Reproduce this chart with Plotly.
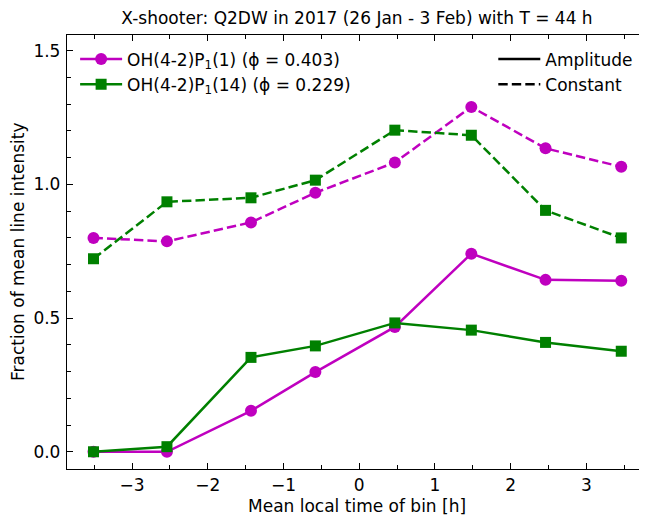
import plotly.graph_objects as go

# Data
local_time = [-3.51, -2.54, -1.43, -0.58, 0.47, 1.48, 2.46, 3.46]
p1_1_amplitude = [0.0, 0.0, 0.153, 0.298, 0.467, 0.741, 0.643, 0.640]
p1_1_constant = [0.800, 0.787, 0.858, 0.969, 1.082, 1.290, 1.135, 1.066]
p1_14_amplitude = [0.0, 0.019, 0.353, 0.396, 0.482, 0.455, 0.409, 0.376]
p1_14_constant = [0.722, 0.935, 0.950, 1.016, 1.203, 1.184, 0.903, 0.800]

x_tick_vals = [-3, -2, -1, 0, 1, 2, 3]
x_tick_text = ["−3", "−2", "−1", "0", "1", "2", "3"]
y_tick_vals = [0, 0.5, 1.0, 1.5]
y_tick_text = ["0.0", "0.5", "1.0", "1.5"]

name_1 = "OH(4-2)P<sub>1</sub>(1) (ϕ = 0.403)"
name_14 = "OH(4-2)P<sub>1</sub>(14) (ϕ = 0.229)"
title = "X-shooter: Q2DW in 2017 (26 Jan - 3 Feb) with T = 44 h"
xlabel = "Mean local time of bin [h]"
ylabel = "Fraction of mean line intensity"

MAG = "#bf00bf"
GRN = "#008000"
FONT = "DejaVu Sans"
FS = 17
LW = 2.5
DASH = "9.4px,4.1px"

fig = go.Figure()

fig.add_trace(go.Scatter(x=local_time, y=p1_1_constant, mode="lines+markers",
                         line=dict(color=MAG, width=LW, dash=DASH),
                         marker=dict(symbol="circle", size=12, color=MAG),
                         showlegend=False))
fig.add_trace(go.Scatter(x=local_time, y=p1_14_constant, mode="lines+markers",
                         line=dict(color=GRN, width=LW, dash=DASH),
                         marker=dict(symbol="square", size=11, color=GRN),
                         showlegend=False))
fig.add_trace(go.Scatter(x=local_time, y=p1_1_amplitude, mode="lines+markers",
                         line=dict(color=MAG, width=LW),
                         marker=dict(symbol="circle", size=12, color=MAG),
                         name=name_1, legend="legend"))
fig.add_trace(go.Scatter(x=local_time, y=p1_14_amplitude, mode="lines+markers",
                         line=dict(color=GRN, width=LW),
                         marker=dict(symbol="square", size=11, color=GRN),
                         name=name_14, legend="legend"))

# line style legend
fig.add_trace(go.Scatter(x=[None], y=[None], mode="lines",
                         line=dict(color="black", width=LW),
                         name="Amplitude", legend="legend2"))
fig.add_trace(go.Scatter(x=[None], y=[None], mode="lines",
                         line=dict(color="black", width=LW, dash=DASH),
                         name="Constant", legend="legend2"))

axis_common = dict(
    showline=True, linecolor="black", linewidth=1.3, mirror="ticks",
    ticks="inside", ticklen=6, tickwidth=1.3, tickcolor="black",
    showgrid=False, zeroline=False, automargin=False,
    tickfont=dict(family=FONT, size=FS, color="black"),
)

fig.update_xaxes(range=[-3.86, 3.80], tickmode="array",
                 tickvals=x_tick_vals, ticktext=x_tick_text,
                 minor=dict(ticks="inside", ticklen=3.5, tickwidth=1.1, tickcolor="black", dtick=0.5),
                 **axis_common)
fig.update_yaxes(range=[-0.0645, 1.559], tickmode="array",
                 tickvals=y_tick_vals, ticktext=y_tick_text,
                 minor=dict(ticks="inside", ticklen=3.5, tickwidth=1.1, tickcolor="black", dtick=0.1),
                 ticklabelstandoff=2,
                 **axis_common)

fig.add_annotation(text=xlabel, xref="paper", yref="paper", x=0.5, y=-0.085,
                   xanchor="center", yanchor="middle", showarrow=False,
                   font=dict(family=FONT, size=FS, color="black"))
fig.add_annotation(text=ylabel, xref="paper", yref="paper", x=-0.0845, y=0.5,
                   xanchor="center", yanchor="middle", showarrow=False, textangle=-90,
                   font=dict(family=FONT, size=FS, color="black"))

# The page body has an 8 px margin, so the figure is sized to end at the window edge
fig.update_layout(
    width=639, height=508,
    margin=dict(l=59, r=0, t=27, b=47, autoexpand=False),
    paper_bgcolor="white", plot_bgcolor="white",
    font=dict(family=FONT, size=FS, color="black"),
    title=dict(text=title, xref="paper", x=0.5, xanchor="center",
               yref="container", y=1 - 10 / 508, yanchor="middle",
               font=dict(family=FONT, size=FS, color="black")),
    legend=dict(x=0.014, y=0.985, xanchor="left", yanchor="top",
                bgcolor="rgba(0,0,0,0)", font=dict(family=FONT, size=FS),
                tracegroupgap=0, itemwidth=42),
    legend2=dict(x=0.985, y=0.985, xanchor="right", yanchor="top",
                 bgcolor="rgba(0,0,0,0)", font=dict(family=FONT, size=FS),
                 tracegroupgap=0, itemwidth=42),
)

fig.write_html("out.html")
